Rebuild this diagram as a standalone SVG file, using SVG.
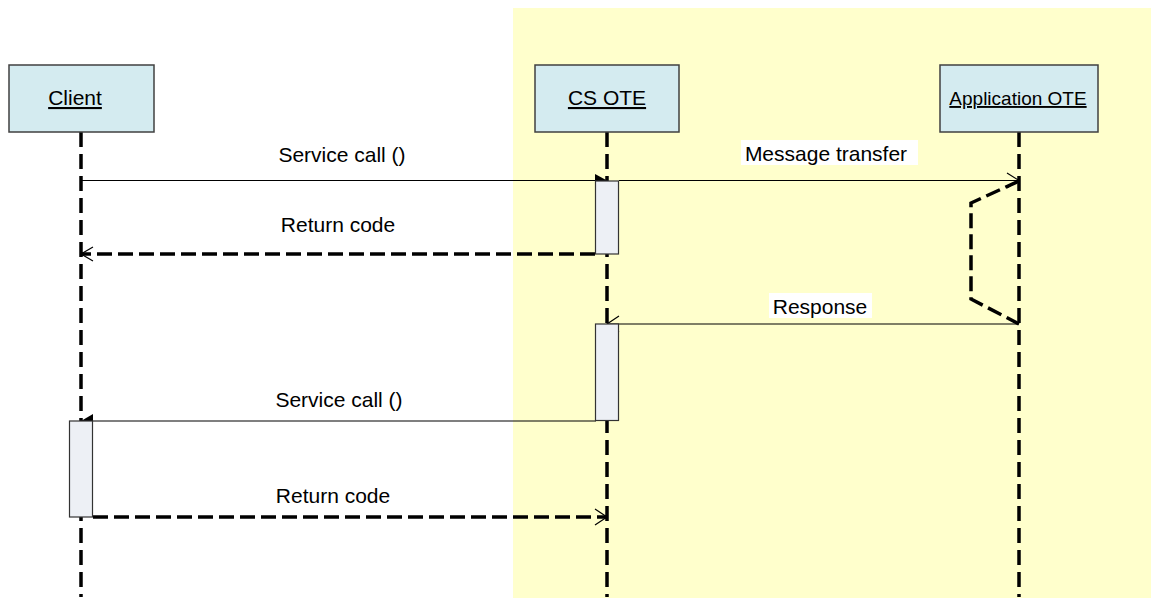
<svg xmlns="http://www.w3.org/2000/svg" width="1151" height="600" viewBox="0 0 1151 600">
<style>
.obj{fill:#D4EBF0;stroke:#404040;stroke-width:1.5}
.objtxt{font-family:"Liberation Sans",Arial,sans-serif;font-size:21px;fill:#000;text-anchor:middle;text-decoration:underline}
.life{stroke:#000;stroke-width:3.5;stroke-dasharray:15 7;fill:none}
.act{fill:#EDF0F5;stroke:#333;stroke-width:1.2}
.msg{stroke:#000;stroke-width:1.2;fill:none}
.ret{stroke:#000;stroke-width:3.5;stroke-dasharray:15 6;fill:none}
.lbl{font-family:"Liberation Sans",Arial,sans-serif;font-size:21px;fill:#000;text-anchor:middle}
.open{stroke:#000;stroke-width:1.2;fill:none}
</style>
<rect width="1151" height="600" fill="#fff"/>
<rect x="513" y="8" width="638" height="590" fill="#FFFFCC"/>

<g id="lifelines">
<line class="life" x1="81" y1="132" x2="81" y2="597"/>
<line class="life" x1="607" y1="132" x2="607" y2="597"/>
<line class="life" x1="1019" y1="132" x2="1019" y2="597"/>
</g>

<g id="client">
<rect class="obj" x="9" y="65" width="145" height="67"/>
<text class="objtxt" x="75" y="105">Client</text>
</g>
<g id="cs-ote">
<rect class="obj" x="535" y="65" width="144" height="67"/>
<text class="objtxt" x="607" y="105">CS OTE</text>
</g>
<g id="app-ote">
<rect class="obj" x="940" y="65" width="158" height="67"/>
<text class="objtxt" x="1018" y="105" style="font-size:19px">Application OTE</text>
</g>

<g id="connectors">
<!-- Service call 1 -->
<line class="msg" x1="81" y1="180.5" x2="607" y2="180.5"/>
<polygon points="607,180.5 595,174 595,187" fill="#000"/>
<text class="lbl" x="342" y="162">Service call ()</text>
<!-- Message transfer -->
<line class="msg" x1="619" y1="180.5" x2="1019" y2="180.5"/>
<polyline class="open" points="1007,173 1019,180.5 1007,188"/>
<rect x="741" y="140" width="177" height="25" fill="#fff"/>
<text class="lbl" x="826" y="161">Message transfer</text>
<!-- Return code 1 -->
<line class="ret" x1="595" y1="254" x2="81" y2="254"/>
<polyline class="open" points="93,247 81,254 93,261"/>
<text class="lbl" x="338" y="232">Return code</text>
<!-- self loop -->
<polyline class="ret" points="1019,181 971,203 971,299 1019,324"/>
<!-- Response -->
<line class="msg" x1="1019" y1="324" x2="607" y2="324"/>
<polyline class="open" points="619,316 607,324 619,332"/>
<rect x="769" y="293" width="103" height="25" fill="#fff"/>
<text class="lbl" x="820" y="314">Response</text>
<!-- Service call 2 -->
<line class="msg" x1="596" y1="421" x2="81" y2="421"/>
<polygon points="81,421 93,414 93,428" fill="#000"/>
<text class="lbl" x="339" y="407">Service call ()</text>
<!-- Return code 2 -->
<line class="ret" x1="93" y1="517" x2="607" y2="517"/>
<polyline class="open" points="595,509 607,517 595,525"/>
<text class="lbl" x="333" y="503">Return code</text>
</g>

<g id="activations">
<rect class="act" x="595.5" y="181" width="23" height="73"/>
<rect class="act" x="595.5" y="324" width="23" height="96.5"/>
<rect class="act" x="69.5" y="421" width="23" height="96"/>
</g>
</svg>
